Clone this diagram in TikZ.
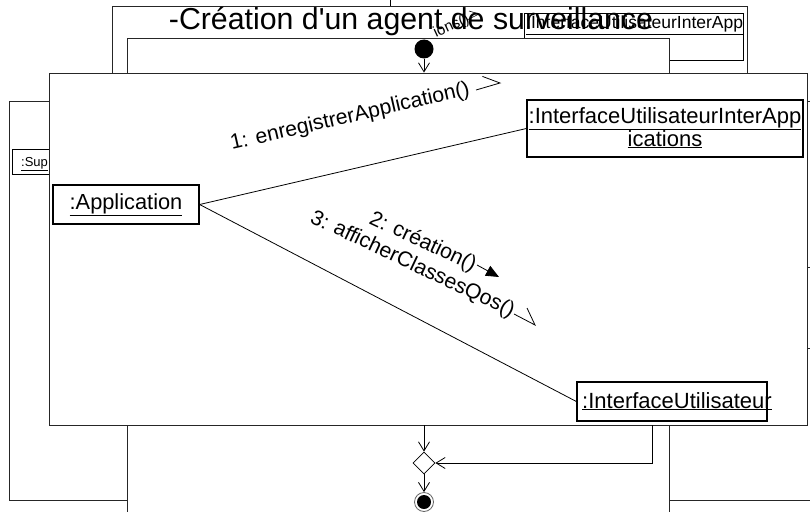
\documentclass[tikz,border=0pt]{standalone}
\usepackage{fontspec}
\setmainfont{Liberation Sans}
\newfontfamily\straightfont{Liberation Sans}
\usetikzlibrary{arrows.meta,shapes.geometric}
\newcommand{\fsz}[1]{\fontsize{#1}{#1}\selectfont}
\begin{document}
\begin{tikzpicture}[x=1pt,y=-1pt,
  panel/.style={draw=black!85,fill=white,line width=0.9pt},
  objbox/.style={draw=black,line width=1.3pt,inner sep=0pt,fill=white},
  objtext/.style={font=\fsz{22},inner sep=0pt},
  link/.style={draw=black,line width=0.8pt},
  flow/.style={draw=black,line width=0.8pt,-{Straight Barb[length=9pt,width=11pt]}},
  msg/.style={font=\fsz{21.2},inner sep=0pt,anchor=base west},
  note/.style={line width=0.8pt},
]
\path[use as bounding box,clip] (0,0) rectangle (810,511);

% frames lying underneath the activity
\draw[panel] (9,101) rectangle (840,500);
\draw[panel] (700,267) rectangle (840,348);
\draw[link] (12,149) rectangle (80,174);
\node[font=\fsz{13},inner sep=0pt,anchor=base west] (sup) at (21,166) {\underline{:Sup}};

\draw[link] (390,0) -- (390,6);
\draw[panel] (112,6) rectangle (747,300);
\draw[line width=1pt] (524,14) rectangle (743,60);
\node[font=\fsz{17.5},inner sep=0pt,anchor=base west] (uiaBack) at (526,29) {\underline{:InterfaceUtilisateurInterApp}};
\node[font=\fsz{15},inner sep=0pt,anchor=base west,rotate=25] (msgBack) at (436,38) {ions()};
\draw[line width=0.6pt] (467,20) -- (479,14) -- (469,11);
\draw[panel] (127,38) rectangle (669,540);

% title and initial state
\node[font=\straightfont\fsz{30.3},inner sep=0pt,anchor=base] (title) at (411,30) {-Création d'un agent de surveillance};
\node[circle,fill=black,minimum size=19pt,inner sep=0pt] (start) at (424,49) {};

% the activity holding the collaboration
\node[panel,minimum width=758pt,minimum height=352pt,inner sep=0pt] (act) at (428,249) {};
\draw[flow] (start) -- (start |- act.north);

% objects
\node[objbox,minimum width=146pt,minimum height=39pt,font=\fsz{21.8}] (app) at (126,204.5) {\underline{:Application}};
\node[objbox,minimum width=276pt,minimum height=57pt] (uia) at (665,128.5) {};
\node[objtext,anchor=base] (uiaL1) at (665,123) {\underline{:InterfaceUtilisateurInterApp}};
\node[objtext,anchor=base] (uiaL2) at (665,146) {\underline{ications}};
\node[objbox,minimum width=190pt,minimum height=39pt] (ui) at (672,401.5) {};
\node[objtext,anchor=base west] (uiL) at (582,408) {\underline{:InterfaceUtilisateur}};

\draw[link] (app.east) -- (uia.west);
\draw[link] (app.east) -- (ui.west);

% messages
\node[msg,rotate=13] (m1) at (232,150) {1: enregistrerApplication()};
\draw[note] (476,90) -- (500,83) -- (482.4,76.4);
\node[msg,rotate=-25] (m2) at (368,223) {2: création()};
\draw[note,-{Triangle[length=13pt,width=11pt]}] (477,265) -- (499,277);
\node[msg,rotate=-25.3] (m3) at (309,222) {3: afficherClassesQos()};
\draw[note] (514,314) -- (535,325) -- (527,308);

% merge and final state
\node[diamond,draw,fill=white,line width=0.8pt,minimum width=22pt,minimum height=22pt,inner sep=0pt] (merge) at (424,463) {};
\node[circle,draw=black!60,line width=0.8pt,minimum size=19pt,inner sep=0pt] (stop) at (424,502) {};
\node[circle,fill=black,minimum size=14pt,inner sep=0pt] (stopcore) at (stop) {};
\coordinate (exitR) at (652,425);
\draw[flow] (merge |- act.south) -- (merge.north);
\draw[flow] (exitR) |- (merge.east);
\draw[flow] (merge.south) -- (stop.north);
\end{tikzpicture}
\end{document}
